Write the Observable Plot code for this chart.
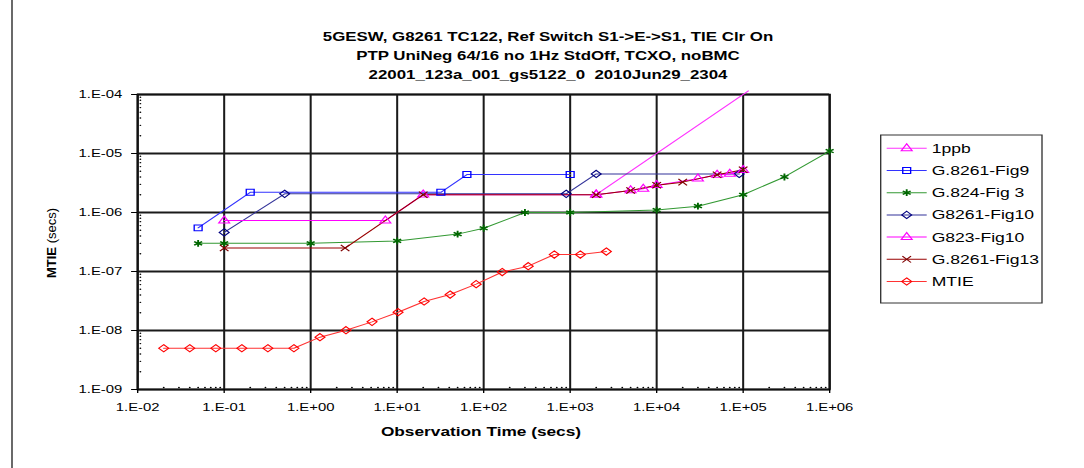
<!DOCTYPE html>
<html><head><meta charset="utf-8">
<script src="https://cdn.jsdelivr.net/npm/d3@7"></script>
<script src="https://cdn.jsdelivr.net/npm/@observablehq/plot@0.6"></script>
<style>
html,body{margin:0;padding:0;background:#fff;overflow:hidden;}
#wrap{position:relative;width:803px;height:468px;transform:scaleX(1.35);transform-origin:0 0;font-family:"Liberation Sans",Arial,sans-serif;}
#wrap svg{position:absolute;left:0;top:0;}
</style></head><body><div id="wrap"></div><script>
// ---------- data ----------
const xTicks = [1e-2, 1e-1, 1e0, 1e1, 1e2, 1e3, 1e4, 1e5, 1e6];
const xTickLabels = ["1.E-02","1.E-01","1.E+00","1.E+01","1.E+02","1.E+03","1.E+04","1.E+05","1.E+06"];
const yTicks = [1e-9, 1e-8, 1e-7, 1e-6, 1e-5, 1e-4];
const yTickLabels = ["1.E-09","1.E-08","1.E-07","1.E-06","1.E-05","1.E-04"];
const titleLines = [
  "5GESW, G8261 TC122, Ref Switch S1->E->S1, TIE Clr On",
  "PTP UniNeg 64/16 no 1Hz StdOff, TCXO, noBMC",
  "22001_123a_001_gs5122_0  2010Jun29_2304"
];
const xTitle = "Observation Time (secs)";
const yTitleBold = "MTIE";
const yTitleRest = " (secs)";

const seriesNames = ["1ppb","G.8261-Fig9","G.824-Fig 3","G8261-Fig10","G823-Fig10","G.8261-Fig13","MTIE"];

const tau1ppb = [2000, 115000];
const val1ppb = [2e-6, 1.15e-4];

const tauFig9 = [0.05, 0.2, 32, 64, 1000];
const valFig9 = [5.5e-7, 2.2e-6, 2.2e-6, 4.4e-6, 4.4e-6];

const tauG824 = [0.05, 0.1, 1, 10, 50, 100, 300, 1000, 10000, 30000, 100000, 300000, 1000000];
const valG824 = [3e-7, 3e-7, 3e-7, 3.3e-7, 4.3e-7, 5.4e-7, 1e-6, 1e-6, 1.1e-6, 1.28e-6, 2e-6, 4e-6, 1.1e-5];

const tauFig10 = [0.1, 0.5, 900, 2000, 90000];
const valFig10 = [4.6e-7, 2.07e-6, 2.07e-6, 4.5e-6, 4.5e-6];

const tauG823 = [0.1, 7.3, 20, 2000, 5000, 7000, 10000, 30000, 50000, 70000, 100000];
const valG823 = [7.3e-7, 7.3e-7, 2e-6, 2e-6, 2.36e-6, 2.52e-6, 2.9e-6, 3.73e-6, 4.35e-6, 4.5e-6, 5.2e-6];

const tauFig13 = [0.1, 2.5, 20, 2000, 5000, 10000, 20000, 50000, 100000];
const valFig13 = [2.5e-7, 2.5e-7, 2e-6, 2e-6, 2.36e-6, 2.9e-6, 3.27e-6, 4.35e-6, 5.3e-6];

const tauMTIE = [0.02,0.04,0.08,0.16,0.32,0.64,1.28,2.56,5.12,10.24,20.48,40.96,81.92,163.84,327.68,655.36,1310.72,2621.44];
const valMTIE = [5e-9,5e-9,5e-9,5e-9,5e-9,5e-9,7.7e-9,1.01e-8,1.4e-8,2.04e-8,3.1e-8,4.07e-8,6.1e-8,9.8e-8,1.23e-7,1.94e-7,1.94e-7,2.18e-7];

const taus = [tau1ppb, tauFig9, tauG824, tauFig10, tauG823, tauFig13, tauMTIE];
const vals = [val1ppb, valFig9, valG824, valFig10, valG823, valFig13, valMTIE];

// ---------- styles ----------
const lineColors = ["#FF33FF","#3333FF","#339933","#333399","#FF00FF","#990000","#FF3333"];
const markColors = ["#FF00FF","#0000FF","#006600","#000080","#FF00FF","#800000","#FF0000"];
const symbols = ["triangle","square","asterisk","diamond2","triangle","times","diamond2"];
const radii = [3, 3.3, 3.2, 3.3, 3, 3, 3.3];
const symbolMap = {triangle: d3.symbolTriangle, square: d3.symbolSquare, asterisk: d3.symbolAsterisk, diamond2: d3.symbolDiamond2, times: d3.symbolTimes};

const S = 1.35;
const W = 1084 / S;
const font = "Liberation Sans, Arial, sans-serif";

const rowsBySeries = seriesNames.map((n, i) => taus[i].map((t, j) => ({series: n, tau: t, val: vals[i][j]})));

const xLab = new Map(xTicks.map((t, i) => [t, xTickLabels[i]]));
const yLab = new Map(yTicks.map((t, i) => [t, yTickLabels[i]]));

const minorX = [];
for (let e = -2; e < 6; e++) for (let k = 2; k <= 9; k++) minorX.push(k * Math.pow(10, e));
const minorY = [];
for (let e = -9; e < -4; e++) for (let k = 2; k <= 9; k++) minorY.push(k * Math.pow(10, e));

const seriesMarks = [];
rowsBySeries.forEach((rows, i) => {
  seriesMarks.push(Plot.line(rows, {x: "tau", y: "val", stroke: lineColors[i], strokeWidth: 1}));
});
rowsBySeries.forEach((rows, i) => {
  seriesMarks.push(Plot.dot(rows.filter(d => d.val <= 1e-4), {
    x: "tau", y: "val", symbol: symbols[i], r: radii[i],
    stroke: markColors[i], fill: "none", strokeWidth: symbols[i] === "asterisk" ? 1.4 : 1
  }));
});

const chart = Plot.plot({
  width: W, height: 468,
  marginLeft: 137 / S, marginRight: W - 829 / S, marginTop: 94, marginBottom: 79,
  style: {fontFamily: font, fontSize: "11px", color: "#000", background: "transparent"},
  x: {type: "log", domain: [1e-2, 1e6]},
  y: {type: "log", domain: [1e-9, 1e-4]},
  marks: [
    Plot.ruleX(xTicks, {stroke: "#1a1a1a", strokeWidth: 1.5}),
    Plot.ruleY(yTicks, {stroke: "#1a1a1a", strokeWidth: 1.9}),
    Plot.frame({stroke: "#111", strokeWidth: 1.6}),
    Plot.dot(minorX, {x: d => d, y: () => 1e-9, dy: -2, r: 0.7, fill: "#000"}),
    Plot.dot(minorY, {x: () => 1e-2, y: d => d, dx: 2, r: 0.7, fill: "#000"}),
    Plot.axisX({ticks: xTicks, tickFormat: d => xLab.get(d), tickSize: 4, tickPadding: 10, fontSize: 11, label: null}),
    Plot.axisY({ticks: yTicks, tickFormat: d => yLab.get(d), tickSize: 4.4, tickPadding: 7, fontSize: 11, label: null}),
    ...seriesMarks
  ]
});

const wrap = document.getElementById("wrap");
wrap.appendChild(chart);

// ---------- overlay: title, axis titles, legend ----------
const ov = d3.create("svg").attr("width", W).attr("height", 468).attr("font-family", font);

ov.append("line").attr("x1", 12 / S).attr("x2", 12 / S).attr("y1", 0).attr("y2", 468)
  .attr("stroke", "#222").attr("stroke-width", 1);

const titleBase = [40.6, 59.7, 78.7];
titleLines.forEach((t, i) => {
  ov.append("text").attr("x", 548 / S).attr("y", titleBase[i]).attr("text-anchor", "middle")
    .attr("font-size", 12.5).attr("font-weight", "bold").attr("fill", "#000")
    .style("white-space", "pre").text(t);
});

ov.append("text").attr("x", 481 / S).attr("y", 436.5).attr("text-anchor", "middle")
  .attr("font-size", 12.8).attr("font-weight", "bold").attr("fill", "#000").text(xTitle);

const yt = ov.append("text").attr("transform", `translate(${56 / S},243) scale(${1 / S},1) rotate(-90)`)
  .attr("text-anchor", "middle").attr("font-size", 13).attr("fill", "#000").style("white-space", "pre");
yt.append("tspan").attr("font-weight", "bold").text(yTitleBold);
yt.append("tspan").text(yTitleRest);

const lg = ov.append("g");
const lx = 880.7 / S;
lg.append("rect").attr("x", lx).attr("y", 135).attr("width", 1042 / S - lx).attr("height", 168)
  .attr("fill", "#fff").attr("stroke", "#333").attr("stroke-width", 1);
seriesNames.forEach((n, i) => {
  const y = 148.3 + i * 22.2;
  lg.append("line").attr("x1", 886.7 / S).attr("x2", 926.7 / S).attr("y1", y).attr("y2", y)
    .attr("stroke", lineColors[i]).attr("stroke-width", 1);
  lg.append("path").attr("d", d3.symbol(symbolMap[symbols[i]], Math.PI * radii[i] * radii[i])())
    .attr("transform", `translate(${906.7 / S},${y})`).attr("fill", "none")
    .attr("stroke", markColors[i]).attr("stroke-width", symbols[i] === "asterisk" ? 1.4 : 1);
  lg.append("text").attr("x", 931.7 / S).attr("y", y + 4.6).attr("font-size", 13).attr("fill", "#000").text(n);
});

wrap.appendChild(ov.node());
</script></body></html>
